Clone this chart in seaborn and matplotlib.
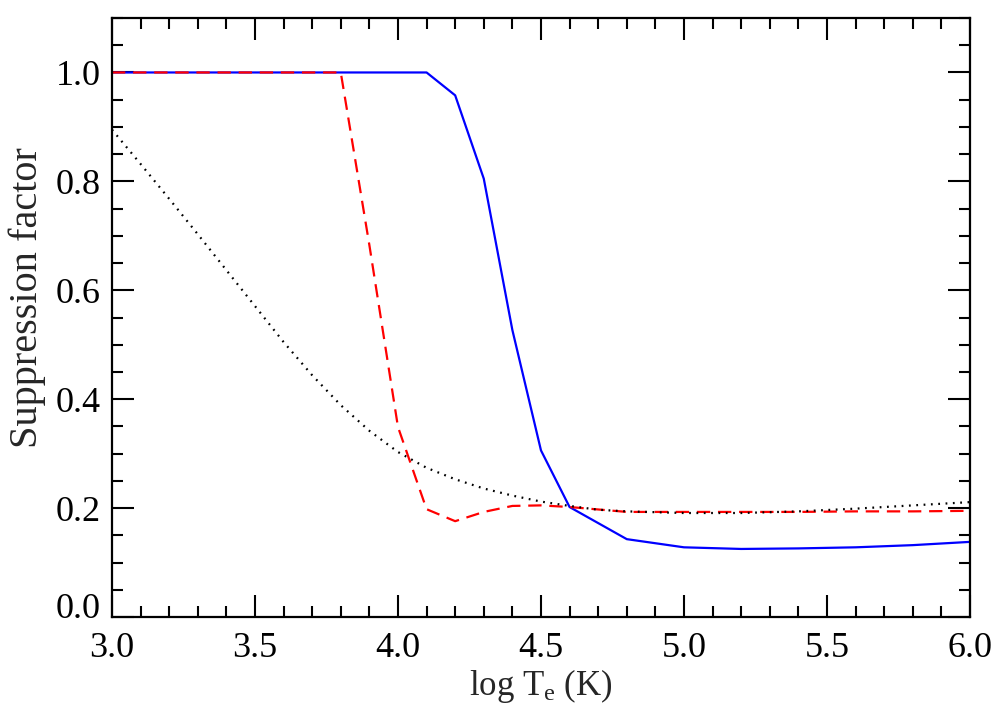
import numpy as np
import pandas as pd
import matplotlib
matplotlib.use("Agg")
import matplotlib.pyplot as plt
import matplotlib.transforms as mtransforms
import seaborn as sns
from matplotlib.ticker import MultipleLocator

# Data
x_blue = [3.0, 3.1, 3.2, 3.3, 3.4, 3.5, 3.6, 3.7, 3.8, 3.9, 4.0, 4.1, 4.2, 4.3, 4.4, 4.5, 4.6, 4.8, 5.0, 5.2, 5.4, 5.6, 5.8, 6.0]
y_blue = [1.0, 1.0, 1.0, 1.0, 1.0, 1.0, 1.0, 1.0, 1.0, 1.0, 1.0, 1.0, 0.958, 0.805, 0.527, 0.306, 0.202, 0.143, 0.128, 0.125, 0.126, 0.128, 0.132, 0.138]

x_red = [3.0, 3.1, 3.2, 3.3, 3.4, 3.5, 3.6, 3.7, 3.8, 3.9, 4.0, 4.1, 4.2, 4.3, 4.4, 4.5, 4.6, 4.8, 5.0, 5.2, 5.4, 5.6, 5.8, 6.0]
y_red = [1.0, 1.0, 1.0, 1.0, 1.0, 1.0, 1.0, 1.0, 1.0, 0.683, 0.349, 0.198, 0.176, 0.193, 0.204, 0.205, 0.202, 0.193, 0.193, 0.193, 0.193, 0.194, 0.194, 0.195]

x_black = [3.0, 3.1, 3.2, 3.3, 3.4, 3.5, 3.6, 3.7, 3.8, 3.9, 4.0, 4.1, 4.2, 4.3, 4.4, 4.5, 4.6, 4.7, 4.8, 5.0, 5.2, 5.4, 5.6, 5.8, 6.0]
y_black = [0.895, 0.832, 0.768, 0.703, 0.637, 0.571, 0.505, 0.444, 0.389, 0.342, 0.303, 0.274, 0.253, 0.236, 0.223, 0.212, 0.204, 0.197, 0.194, 0.191, 0.191, 0.194, 0.199, 0.205, 0.211]

x_ticks = [3.0, 3.5, 4.0, 4.5, 5.0, 5.5, 6.0]
y_ticks = [0.0, 0.2, 0.4, 0.6, 0.8, 1.0]

sns.set_style("ticks")
plt.rcParams['font.family'] = ['Liberation Serif', 'DejaVu Serif']
plt.rcParams['mathtext.fontset'] = 'custom'
plt.rcParams['mathtext.rm'] = 'Liberation Serif'
plt.rcParams['mathtext.it'] = 'Liberation Serif:italic'

fig = plt.figure(figsize=(9.97, 7.12), dpi=100)
ax = fig.add_axes([0.1123, 0.1334, 0.8606, 0.8413])

df_b = pd.DataFrame({"x": x_blue, "y": y_blue})
df_r = pd.DataFrame({"x": x_red, "y": y_red})
df_k = pd.DataFrame({"x": x_black, "y": y_black})

sns.lineplot(data=df_b, x="x", y="y", ax=ax, color=(0, 0, 1), lw=1.6, sort=False)
sns.lineplot(data=df_r, x="x", y="y", ax=ax, color=(1, 0, 0), lw=1.6, sort=False,
             dashes=False, linestyle=(0, (6, 3.5)))
sns.lineplot(data=df_k, x="x", y="y", ax=ax, color="black", lw=1.6, sort=False,
             linestyle=(0, (0.8, 2.5)))

ax.set_xlim(3.0, 6.0)
ax.set_ylim(0.0, 1.1)
ax.set_xticks(x_ticks)
ax.set_xticklabels([f"{v:.1f}" for v in x_ticks])
ax.set_yticks(y_ticks)
ax.set_yticklabels([f"{v:.1f}" for v in y_ticks])
ax.xaxis.set_minor_locator(MultipleLocator(0.1))
ax.yaxis.set_minor_locator(MultipleLocator(0.05))
ax.tick_params(which='both', direction='in', top=True, right=True, width=1.5, colors='black')
ax.tick_params(which='major', length=16, labelsize=26, pad=11)
ax.tick_params(which='minor', length=8)
ax.tick_params(axis='y', which='major', pad=8)
for s in ax.spines.values():
    s.set_linewidth(1.6)
    s.set_color('black')

# raise the bottom y label slightly above the x axis as in the reference
lbl0 = ax.get_yticklabels()[0]
lbl0.set_transform(lbl0.get_transform() + mtransforms.ScaledTranslation(0, 12 / 100, fig.dpi_scale_trans))

ax.set_xlabel(r'log T$_{\mathrm{e}}$ (K)', fontsize=25, labelpad=1)
ax.set_ylabel('Suppression factor', fontsize=29)
ax.yaxis.set_label_coords(-0.077, 0.533)

fig.savefig("out.png", dpi=100, facecolor='white')
